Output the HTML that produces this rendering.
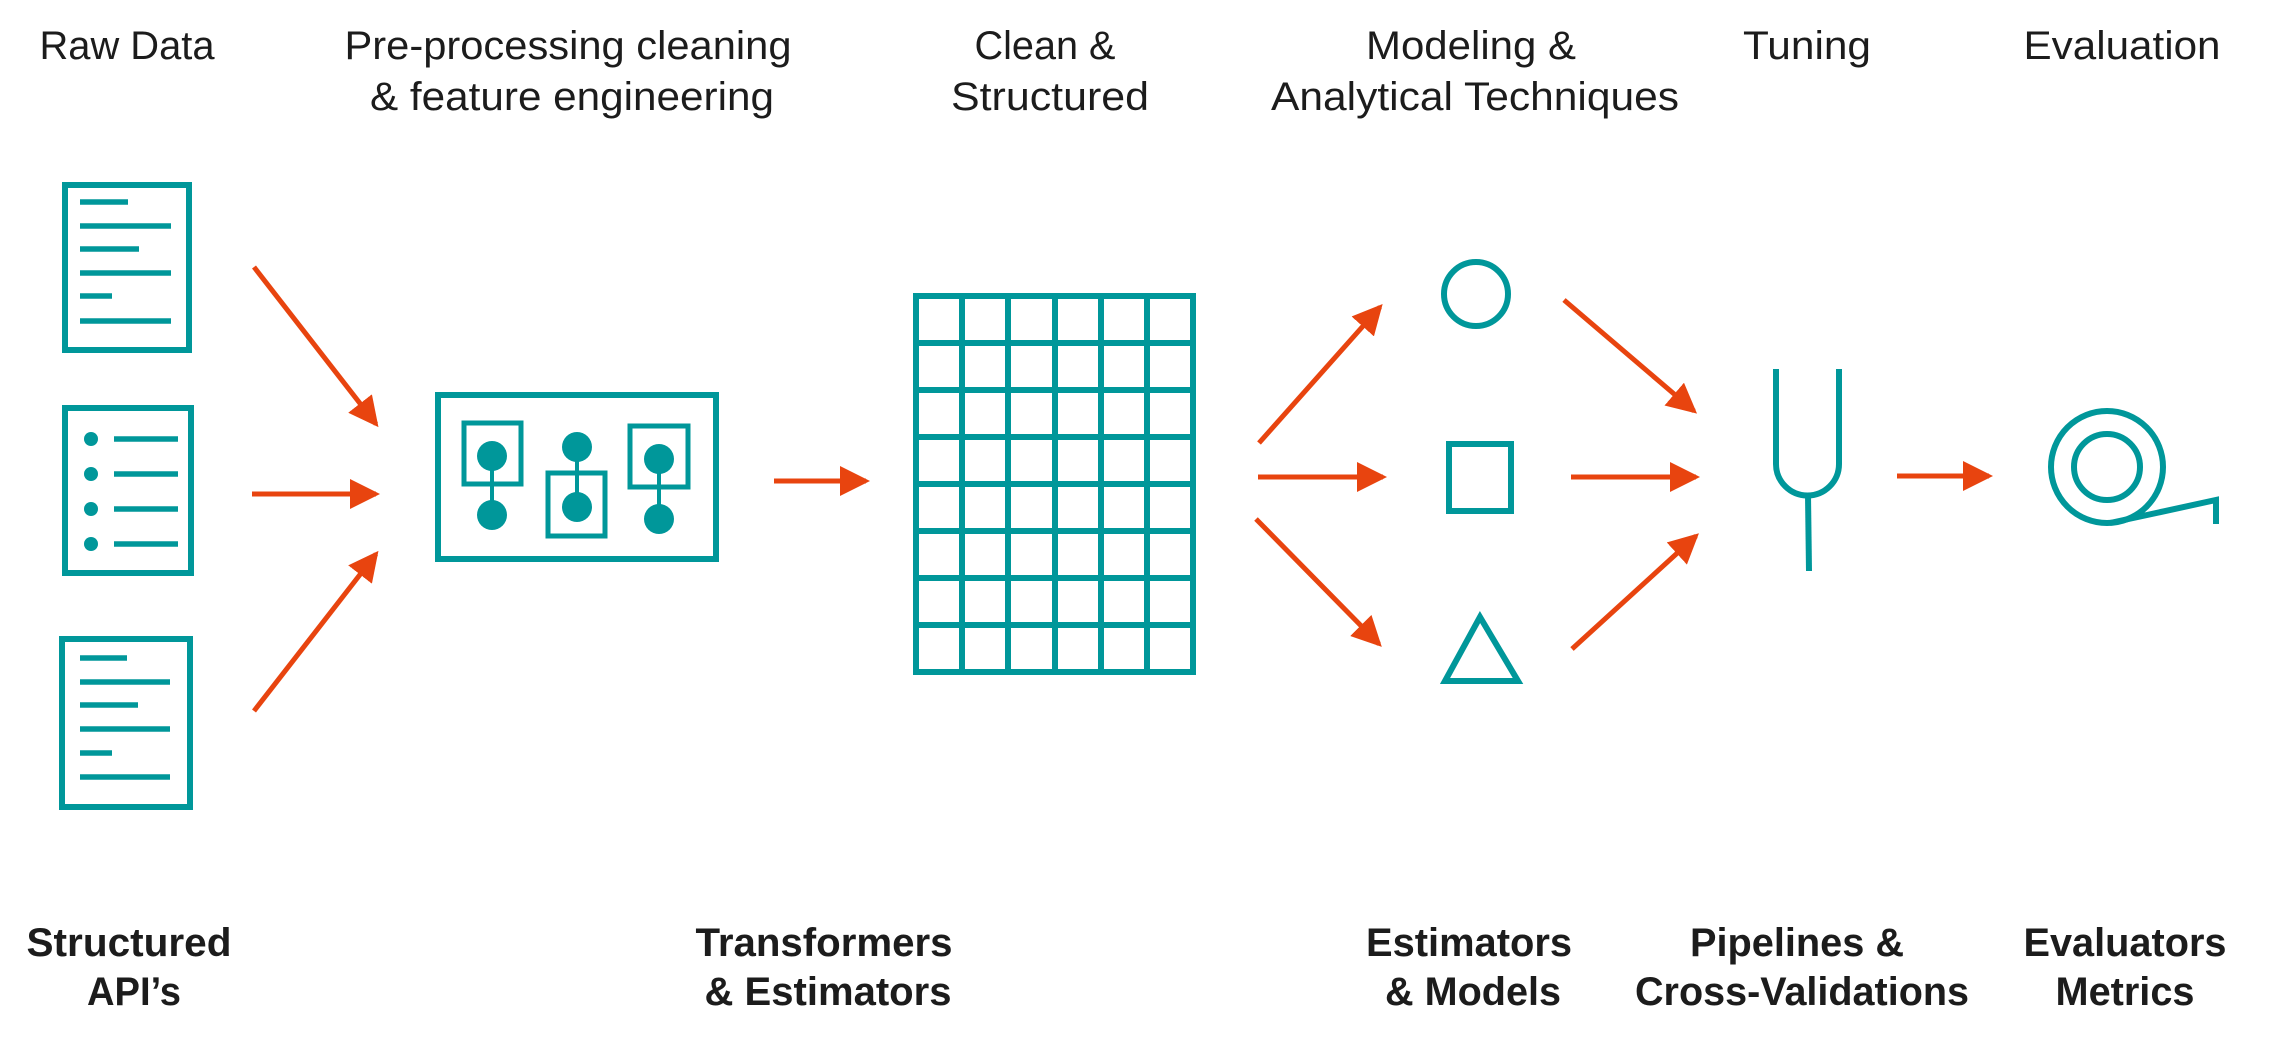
<!DOCTYPE html>
<html><head><meta charset="utf-8"><style>html,body{margin:0;padding:0;background:#fff}svg{display:block}</style></head>
<body>
<svg width="2272" height="1047" viewBox="0 0 2272 1047" xmlns="http://www.w3.org/2000/svg">
<defs>
<marker id="ah" markerWidth="6" markerHeight="6" refX="5.2" refY="3" orient="auto" markerUnits="strokeWidth">
<path d="M0,0 L6,3 L0,6 z" fill="#e8440f"/>
</marker>
</defs>
<g font-family="Liberation Sans, sans-serif" font-size="40" fill="#1c1c1c" text-anchor="middle" lengthAdjust="spacingAndGlyphs">
<text x="127" y="59" textLength="175" lengthAdjust="spacingAndGlyphs">Raw Data</text>
<text x="568" y="59" textLength="447" lengthAdjust="spacingAndGlyphs">Pre-processing cleaning</text>
<text x="572" y="110" textLength="404" lengthAdjust="spacingAndGlyphs">&amp; feature engineering</text>
<text x="1045" y="59" textLength="141" lengthAdjust="spacingAndGlyphs">Clean &amp;</text>
<text x="1050" y="110" textLength="198" lengthAdjust="spacingAndGlyphs">Structured</text>
<text x="1471" y="59" textLength="210" lengthAdjust="spacingAndGlyphs">Modeling &amp;</text>
<text x="1475" y="110" textLength="408" lengthAdjust="spacingAndGlyphs">Analytical Techniques</text>
<text x="1807" y="59" textLength="128" lengthAdjust="spacingAndGlyphs">Tuning</text>
<text x="2122" y="59" textLength="197" lengthAdjust="spacingAndGlyphs">Evaluation</text>
</g>
<g font-family="Liberation Sans, sans-serif" font-size="40" font-weight="bold" fill="#1c1c1c" text-anchor="middle">
<text x="129" y="956" textLength="205" lengthAdjust="spacingAndGlyphs">Structured</text>
<text x="134" y="1005" textLength="94" lengthAdjust="spacingAndGlyphs">API’s</text>
<text x="824" y="956" textLength="257" lengthAdjust="spacingAndGlyphs">Transformers</text>
<text x="828" y="1005" textLength="247" lengthAdjust="spacingAndGlyphs">&amp; Estimators</text>
<text x="1469" y="956" textLength="206" lengthAdjust="spacingAndGlyphs">Estimators</text>
<text x="1473" y="1005" textLength="176" lengthAdjust="spacingAndGlyphs">&amp; Models</text>
<text x="1797" y="956" textLength="214" lengthAdjust="spacingAndGlyphs">Pipelines &amp;</text>
<text x="1802" y="1005" textLength="334" lengthAdjust="spacingAndGlyphs">Cross-Validations</text>
<text x="2125" y="956" textLength="203" lengthAdjust="spacingAndGlyphs">Evaluators</text>
<text x="2125" y="1005" textLength="139" lengthAdjust="spacingAndGlyphs">Metrics</text>
</g>
<g stroke="#00979a" stroke-width="6" fill="none">
<!-- doc1 -->
<rect x="65" y="185" width="124" height="165"/>
<g stroke-width="5.5">
<line x1="80" y1="202" x2="128" y2="202"/><line x1="80" y1="226" x2="171" y2="226"/>
<line x1="80" y1="249" x2="139" y2="249"/><line x1="80" y1="273" x2="171" y2="273"/>
<line x1="80" y1="296" x2="112" y2="296"/><line x1="80" y1="321" x2="171" y2="321"/>
</g>
<!-- doc2 -->
<rect x="65" y="408" width="126" height="165"/>
<g stroke-width="5.5">
<line x1="114" y1="439" x2="178" y2="439"/><line x1="114" y1="474" x2="178" y2="474"/>
<line x1="114" y1="509" x2="178" y2="509"/><line x1="114" y1="544" x2="178" y2="544"/>
</g>
<!-- doc3 -->
<rect x="62" y="639" width="128" height="168"/>
<g stroke-width="5.5">
<line x1="80" y1="658" x2="127" y2="658"/><line x1="80" y1="682" x2="170" y2="682"/>
<line x1="80" y1="705" x2="138" y2="705"/><line x1="80" y1="729" x2="170" y2="729"/>
<line x1="80" y1="753" x2="112" y2="753"/><line x1="80" y1="777" x2="170" y2="777"/>
</g>
<!-- transformer box -->
<rect x="438" y="395" width="278" height="164"/>
<rect x="464" y="423" width="57" height="61" stroke-width="5"/>
<rect x="548" y="473" width="57" height="63" stroke-width="5"/>
<rect x="630" y="426" width="58" height="61" stroke-width="5"/>
<line x1="492" y1="456" x2="492" y2="515" stroke-width="4"/>
<line x1="577" y1="447" x2="577" y2="507" stroke-width="4"/>
<line x1="659" y1="459" x2="659" y2="519" stroke-width="4"/>
<!-- grid -->
<rect x="916" y="296" width="277" height="376"/>
<path d="M962,296V672M1008,296V672M1055,296V672M1101,296V672M1147,296V672
M916,343H1193M916,390H1193M916,437H1193M916,484H1193M916,531H1193M916,578H1193M916,625H1193"/>
<!-- shapes -->
<circle cx="1476" cy="294" r="32"/>
<rect x="1449" y="444" width="62" height="67"/>
<path d="M1480,617 L1445,681 L1518,681 Z"/>
<!-- fork -->
<path d="M1776,369 V464 A31,31 0 0 0 1839,464 V369"/>
<line x1="1808" y1="495" x2="1809" y2="571"/>
<!-- tape -->
<circle cx="2107" cy="467" r="56"/>
<circle cx="2107" cy="467" r="33"/>
<path d="M2110,523 L2216,500 V524"/>
</g>
<g fill="#00979a">
<circle cx="91" cy="439" r="7"/><circle cx="91" cy="474" r="7"/><circle cx="91" cy="509" r="7"/><circle cx="91" cy="544" r="7"/>
<circle cx="492" cy="456" r="15"/><circle cx="492" cy="515" r="15"/>
<circle cx="577" cy="447" r="15"/><circle cx="577" cy="507" r="15"/>
<circle cx="659" cy="459" r="15"/><circle cx="659" cy="519" r="15"/>
</g>
<g stroke="#e8440f" stroke-width="5" fill="none" marker-end="url(#ah)">
<line x1="254" y1="267" x2="376" y2="424"/>
<line x1="252" y1="494" x2="376" y2="494"/>
<line x1="254" y1="711" x2="376" y2="554"/>
<line x1="774" y1="481" x2="866" y2="481"/>
<line x1="1259" y1="443" x2="1380" y2="307"/>
<line x1="1258" y1="477" x2="1383" y2="477"/>
<line x1="1256" y1="519" x2="1379" y2="644"/>
<line x1="1564" y1="300" x2="1694" y2="411"/>
<line x1="1571" y1="477" x2="1696" y2="477"/>
<line x1="1572" y1="649" x2="1696" y2="536"/>
<line x1="1897" y1="476" x2="1989" y2="476"/>
</g>
</svg>
</body></html>
